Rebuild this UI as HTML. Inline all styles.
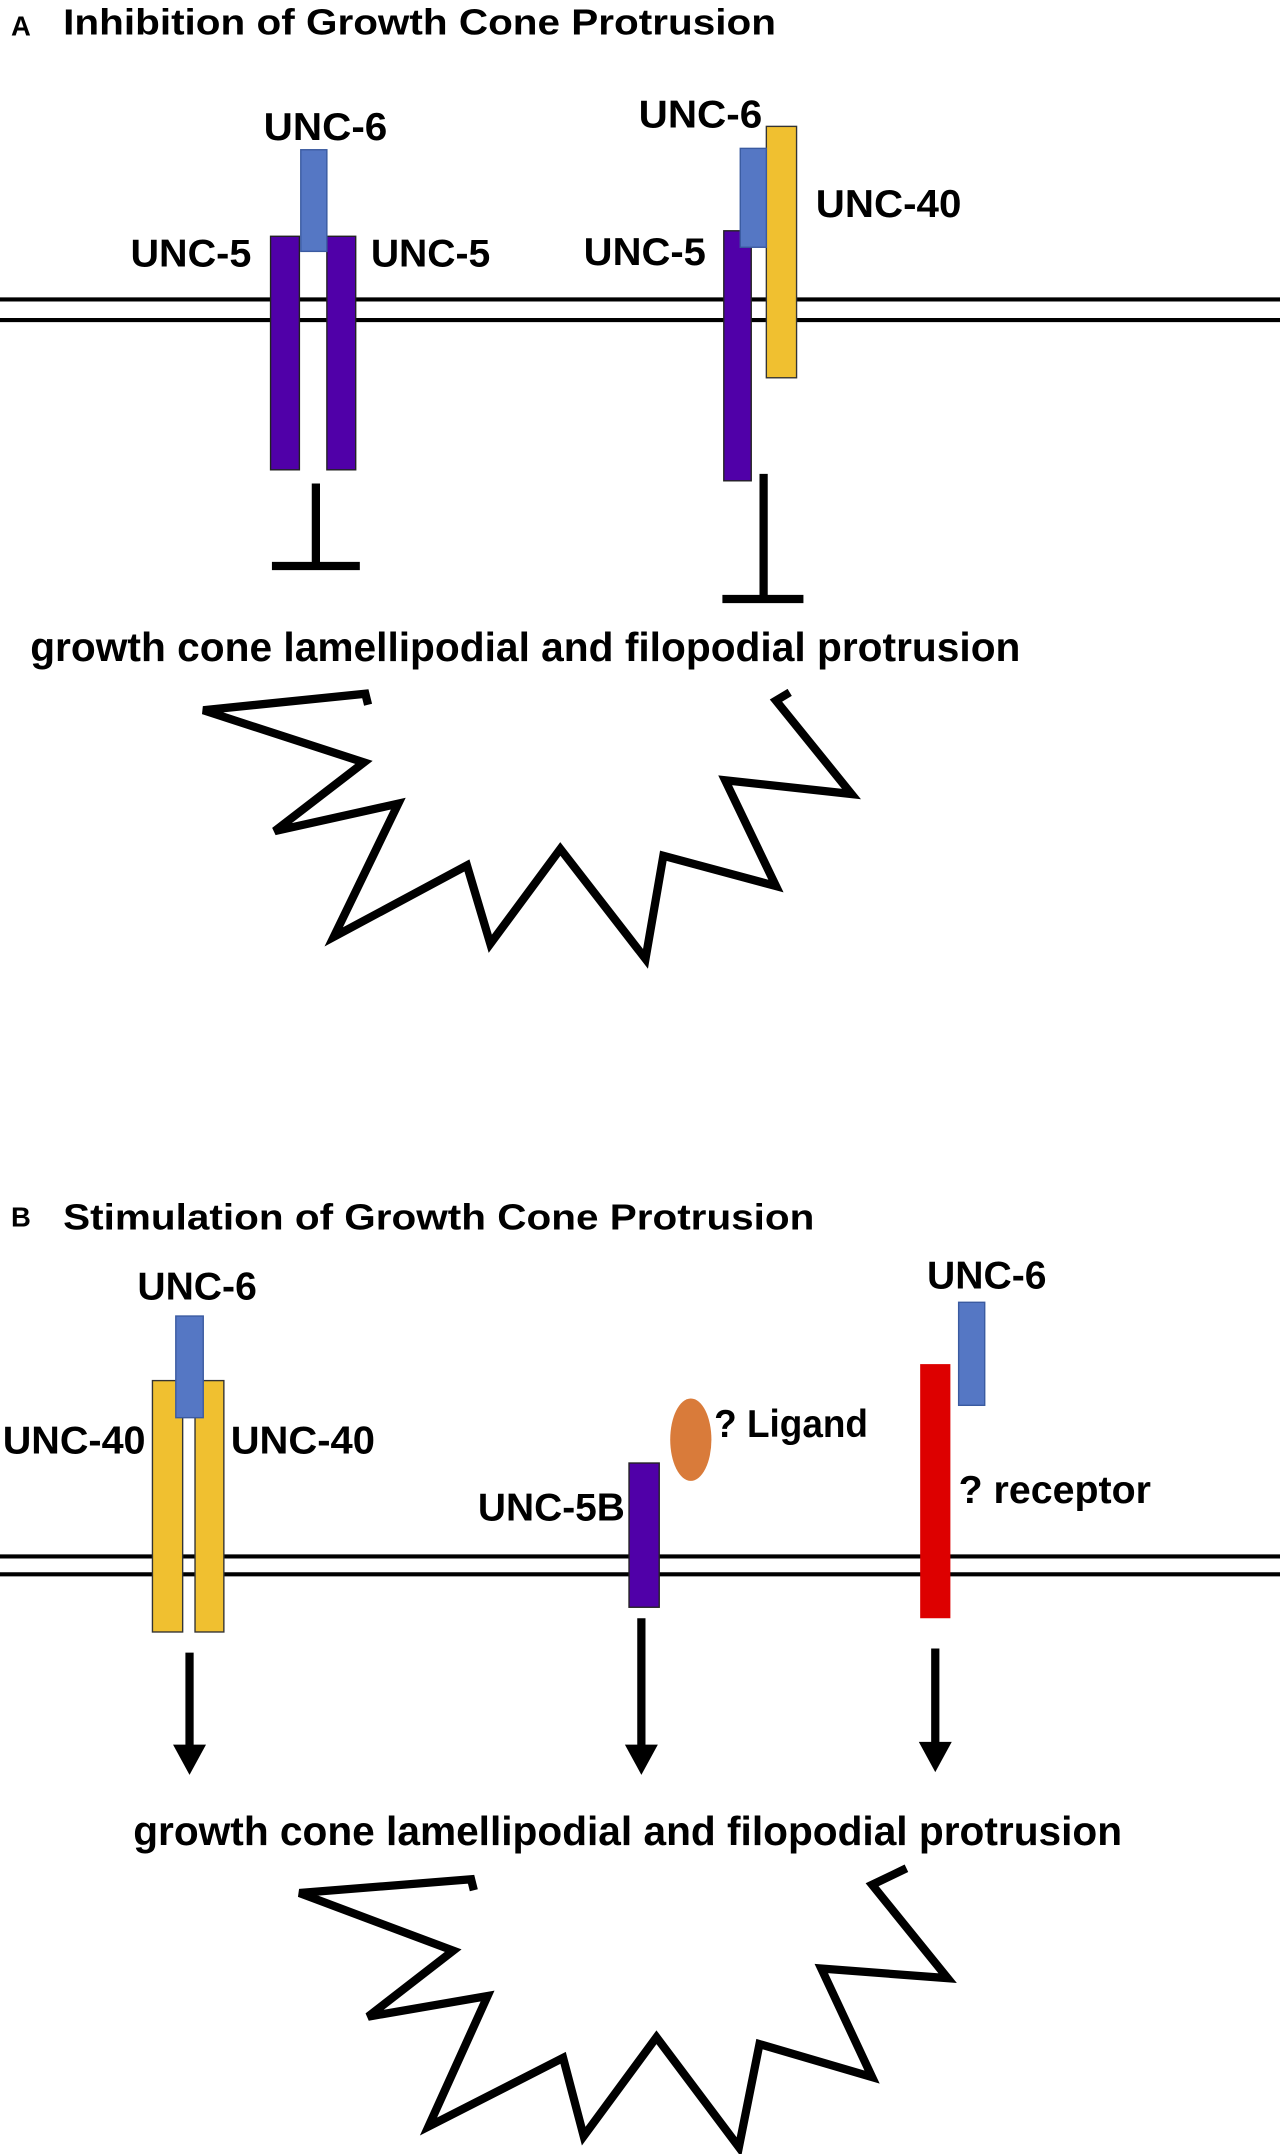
<!DOCTYPE html>
<html><head><meta charset="utf-8"><style>
html,body{margin:0;padding:0;background:#fff;}
svg{display:block;}
text{font-family:"Liberation Sans",sans-serif;font-weight:bold;fill:#000;}
</style></head><body>
<svg width="1280" height="2154" viewBox="0 0 932 1568" xmlns="http://www.w3.org/2000/svg" preserveAspectRatio="none">
<rect width="932" height="1568" fill="#fff"/>
<!-- Panel A -->
<text x="8" y="26" font-size="20">A</text>
<text x="46" y="25" font-size="26" textLength="519" lengthAdjust="spacingAndGlyphs">Inhibition of Growth Cone Protrusion</text>
<line x1="0" y1="218" x2="932" y2="218" stroke="#000" stroke-width="3"/>
<line x1="0" y1="233" x2="932" y2="233" stroke="#000" stroke-width="3"/>
<rect x="197" y="172" width="21" height="170" fill="#5000a8" stroke="#222" stroke-width="1"/>
<rect x="238" y="172" width="21" height="170" fill="#5000a8" stroke="#222" stroke-width="1"/>
<rect x="219" y="109" width="19" height="74" fill="#5577c4" stroke="#3a5aa0" stroke-width="1"/>
<text x="192" y="102" font-size="28" textLength="90" lengthAdjust="spacingAndGlyphs">UNC-6</text>
<text x="95" y="194" font-size="28" textLength="88" lengthAdjust="spacingAndGlyphs">UNC-5</text>
<text x="270" y="194" font-size="28" textLength="87" lengthAdjust="spacingAndGlyphs">UNC-5</text>
<line x1="230" y1="352" x2="230" y2="412" stroke="#000" stroke-width="6"/>
<line x1="198" y1="412" x2="262" y2="412" stroke="#000" stroke-width="6"/>
<rect x="558" y="92" width="22" height="183" fill="#f0c030" stroke="#333" stroke-width="1"/>
<rect x="527" y="168" width="20" height="182" fill="#5000a8" stroke="#222" stroke-width="1"/>
<rect x="539" y="108" width="19" height="72" fill="#5577c4" stroke="#3a5aa0" stroke-width="1"/>
<text x="465" y="93" font-size="28" textLength="90" lengthAdjust="spacingAndGlyphs">UNC-6</text>
<text x="594" y="158" font-size="28" textLength="106" lengthAdjust="spacingAndGlyphs">UNC-40</text>
<text x="425" y="193" font-size="28" textLength="89" lengthAdjust="spacingAndGlyphs">UNC-5</text>
<line x1="556" y1="345" x2="556" y2="436" stroke="#000" stroke-width="6"/>
<line x1="526" y1="436" x2="585" y2="436" stroke="#000" stroke-width="6"/>
<text x="22" y="481" font-size="30" textLength="721" lengthAdjust="spacingAndGlyphs">growth cone lamellipodial and filopodial protrusion</text>
<polyline fill="none" stroke="#000" stroke-width="6" stroke-linejoin="miter" points="268,513 266,505 148,517 265,555 200,605 290,585 243,682 340,630 357,687 408,618 470,698 483,623 565,645 528,568 620,578 565,510 575,504"/>
<!-- Panel B -->
<text x="8" y="893" font-size="20">B</text>
<text x="46" y="895" font-size="26" textLength="547" lengthAdjust="spacingAndGlyphs">Stimulation of Growth Cone Protrusion</text>
<line x1="0" y1="1133" x2="932" y2="1133" stroke="#000" stroke-width="3"/>
<line x1="0" y1="1146" x2="932" y2="1146" stroke="#000" stroke-width="3"/>
<rect x="111" y="1005" width="22" height="183" fill="#f0c030" stroke="#333" stroke-width="1"/>
<rect x="142" y="1005" width="21" height="183" fill="#f0c030" stroke="#333" stroke-width="1"/>
<rect x="128" y="958" width="20" height="74" fill="#5577c4" stroke="#3a5aa0" stroke-width="1"/>
<text x="100" y="946" font-size="28" textLength="87" lengthAdjust="spacingAndGlyphs">UNC-6</text>
<text x="2" y="1058" font-size="28" textLength="104" lengthAdjust="spacingAndGlyphs">UNC-40</text>
<text x="168" y="1058" font-size="28" textLength="105" lengthAdjust="spacingAndGlyphs">UNC-40</text>
<line x1="138" y1="1203" x2="138" y2="1272" stroke="#000" stroke-width="6"/>
<polygon points="126,1270 150,1270 138,1292" fill="#000"/>
<rect x="458" y="1065" width="22" height="105" fill="#5000a8" stroke="#222" stroke-width="1"/>
<text x="348" y="1107" font-size="28" textLength="107" lengthAdjust="spacingAndGlyphs">UNC-5B</text>
<ellipse cx="503" cy="1048" rx="15" ry="30" fill="#d97b3a"/>
<text x="520" y="1046" font-size="28" textLength="112" lengthAdjust="spacingAndGlyphs">? Ligand</text>
<line x1="467" y1="1178" x2="467" y2="1272" stroke="#000" stroke-width="6"/>
<polygon points="455,1270 479,1270 467,1292" fill="#000"/>
<rect x="670" y="993" width="22" height="185" fill="#dd0000"/>
<rect x="698" y="948" width="19" height="75" fill="#5577c4" stroke="#3a5aa0" stroke-width="1"/>
<text x="675" y="938" font-size="28" textLength="87" lengthAdjust="spacingAndGlyphs">UNC-6</text>
<text x="698" y="1094" font-size="28" textLength="140" lengthAdjust="spacingAndGlyphs">? receptor</text>
<line x1="681" y1="1200" x2="681" y2="1270" stroke="#000" stroke-width="6"/>
<polygon points="669,1268 693,1268 681,1290" fill="#000"/>
<text x="97" y="1343" font-size="30" textLength="720" lengthAdjust="spacingAndGlyphs">growth cone lamellipodial and filopodial protrusion</text>
<polyline fill="none" stroke="#000" stroke-width="6" stroke-linejoin="miter" points="345,1376 343,1368 218,1378 330,1420 268,1468 355,1453 312,1548 410,1498 425,1555 478,1483 538,1563 553,1488 635,1512 598,1433 690,1440 635,1372 660,1360"/>
</svg>
</body></html>
